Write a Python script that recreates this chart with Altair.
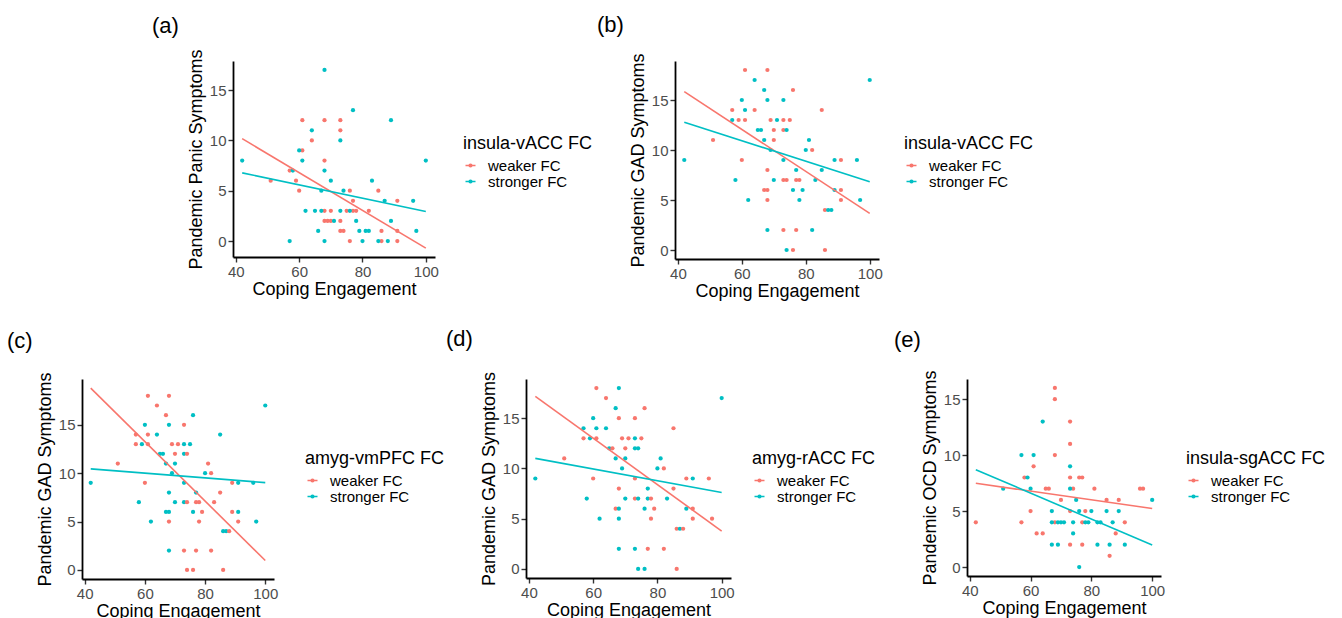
import altair as alt
import pandas as pd

FONT = "Liberation Sans, Arial, Helvetica, sans-serif"
RED = "#F8766D"
TEAL = "#00BFC4"
GROUPS = ["weaker FC", "stronger FC"]
CODE = {"w": "weaker FC", "s": "stronger FC"}

x_ticks = [40, 60, 80, 100]
y_ticks = [0, 5, 10, 15]
line_x = [42, 100]

# ---- (a) Panic symptoms, insula-vACC FC ----
a_weak_x = [51, 57, 59, 60, 61, 61, 64, 68, 68, 68, 68, 69, 70, 70, 73, 73, 73, 73, 74, 75, 76, 76, 77, 77, 78, 82, 85, 86, 86, 91, 91, 91]
a_weak_y = [6, 7, 6, 5, 9, 12, 10, 12, 8, 3, 2, 2, 2, 3, 12, 11, 2, 1, 1, 3, 5, 0, 4, 3, 3, 3, 5, 1, 0, 4, 0, 1]
a_strong_x = [42, 57, 58, 60, 61, 62, 64, 65, 66, 67, 67, 68, 68, 68, 70, 71, 73, 73, 74, 76, 77, 78, 79, 80, 81, 82, 83, 85, 87, 88, 89, 89, 96, 97, 100]
a_strong_y = [8, 0, 7, 9, 8, 3, 11, 3, 1, 3, 5, 17, 7, 0, 6, 2, 10, 3, 5, 3, 13, 2, 1, 0, 1, 1, 6, 0, 4, 0, 12, 2, 4, 1, 8]
a_line_weak = [10.17, -0.70]
a_line_strong = [6.77, 2.93]

# ---- GAD symptoms (panels b, c, d share the same participants) ----
gad_x = [61, 68, 64, 100, 67, 76, 60, 68, 73, 57, 61, 64, 85, 57, 59, 61, 69, 71, 73, 75,
         65, 66, 70, 73, 74, 51, 67, 70, 81, 69, 80, 82, 42, 60, 73, 89, 91, 96, 68, 77, 85,
         58, 70, 73, 74, 77, 78, 83, 67, 68, 76, 79, 89, 91, 62, 68, 78, 91, 97, 86, 87, 88,
         68, 73, 77, 82, 74, 76, 86]
gad_y = [18, 18, 17, 17, 16, 16, 15, 15, 15, 14, 14, 14, 14, 13, 13, 13, 13, 13, 13, 13,
         12, 12, 12, 12, 12, 11, 11, 11, 11, 10, 10, 10, 9, 9, 9, 9, 9, 9, 8, 8, 8,
         7, 7, 7, 7, 7, 7, 7, 6, 6, 6, 6, 6, 6, 5, 5, 5, 5, 5, 4, 4, 4,
         2, 2, 2, 2, 0, 0, 0]
b_group = list("ww" "ss" "sw" "sss" "wsww" "swwwsww" "sswws" "wsws" "ssw" "swssws"
               "wss" "sswwwws" "wwsssw" "swsws" "wss" "swws" "sww")
c_group = list("ww" "ws" "ws" "ssw" "wwss" "wswwwss" "sswsw" "wssw" "ssw" "swswss"
               "ssw" "ssswwww" "ssswws" "swwws" "ssw" "swww" "www")
d_group = list("ws" "ws" "sw" "sww" "sssw" "wswwwsw" "swwss" "wsss" "ssw" "swwwsw"
               "wsw" "sswssws" "wsswsw" "sswww" "wsw" "ssww" "ssw")
b_line_weak = [15.83, 3.67]
b_line_strong = [12.77, 6.83]
c_line_weak = [18.80, 0.97]
c_line_strong = [10.45, 9.03]
d_line_weak = [17.17, 3.77]
d_line_strong = [11.00, 7.60]

# ---- (e) OCD symptoms, insula-sgACC FC ----
e_weak_x = [68, 68, 73, 73, 68, 61, 58, 73, 76, 77, 65, 66, 74, 81, 96, 97, 70, 85, 89, 60, 73, 78, 42, 57, 68, 77, 91, 62, 64, 88, 73, 77, 86]
e_weak_y = [16, 15, 13, 11, 10, 9, 8, 8, 8, 8, 7, 7, 7, 7, 7, 7, 6, 6, 6, 5, 5, 5, 4, 4, 4, 4, 4, 3, 3, 3, 2, 2, 1]
e_strong_x = [64, 57, 61, 73, 59, 51, 60, 73, 75, 100, 67, 76, 80, 85, 89, 67, 69, 70, 71, 74, 78, 79, 82, 83, 87, 74, 67, 69, 82, 86, 91, 76]
e_strong_y = [13, 10, 10, 9, 8, 7, 7, 7, 6, 6, 5, 5, 5, 5, 5, 4, 4, 4, 4, 4, 4, 4, 4, 4, 4, 3, 2, 2, 2, 2, 2, 0]
e_line_weak = [7.48, 5.23]
e_line_strong = [8.70, 1.96]


def pts_two(wx, wy, sx, sy):
    return pd.DataFrame({
        "x": wx + sx, "y": wy + sy,
        "group": ["weaker FC"] * len(wx) + ["stronger FC"] * len(sx)})


def pts_coded(xs, ys, codes):
    return pd.DataFrame({"x": xs, "y": ys, "group": [CODE[c] for c in codes]})


def lines_df(weak, strong):
    return pd.DataFrame({
        "x": line_x + line_x, "y": weak + strong,
        "group": ["weaker FC"] * 2 + ["stronger FC"] * 2})


LEG_PATH = "M-1,0H1M0.26,0A0.26,0.26,0,1,1,-0.26,0A0.26,0.26,0,1,1,0.26,0Z"


def panel(pts, lns, ytitle, ydom, w, h, leg_title, label, tdx, toff, lx, ly):
    cscale = alt.Scale(domain=GROUPS, range=[RED, TEAL])
    xs = alt.Scale(domain=[39.1, 102.9], nice=False, zero=False)
    ys = alt.Scale(domain=ydom, nice=False, zero=False)
    xa = alt.Axis(values=x_ticks, title="Coping Engagement")
    ya = alt.Axis(values=y_ticks, title=ytitle)
    leg = alt.Legend(title=leg_title, orient="none", legendX=lx, legendY=ly,
                     symbolType=LEG_PATH, symbolSize=100, symbolStrokeWidth=1.6)
    p = alt.Chart(pts).mark_circle(size=18, opacity=1).encode(
        x=alt.X("x:Q", scale=xs, axis=xa),
        y=alt.Y("y:Q", scale=ys, axis=ya),
        color=alt.Color("group:N", scale=cscale, sort=GROUPS, legend=leg),
    )
    l = alt.Chart(lns).mark_line(strokeWidth=1.6).encode(
        x=alt.X("x:Q", scale=xs, axis=xa),
        y=alt.Y("y:Q", scale=ys, axis=ya),
        color=alt.Color("group:N", scale=cscale, sort=GROUPS, legend=leg),
    )
    return alt.layer(p, l).properties(
        width=w, height=h,
        title=alt.TitleParams(label, anchor="start", frame="group", dx=tdx,
                              baseline="alphabetic", offset=toff, fontSize=22,
                              fontWeight="normal", font=FONT, color="black"))


def spacer(w):
    return alt.Chart(pd.DataFrame({"v": [0]})).mark_point(opacity=0).properties(width=w, height=10)


pa = panel(pts_two(a_weak_x, a_weak_y, a_strong_x, a_strong_y), lines_df(a_line_weak, a_line_strong),
           "Pandemic Panic Symptoms", [-1.585, 17.885], 202, 196, "insula-vACC FC", "(a)", -81, -6, 230, 74)
pb = panel(pts_coded(gad_x, gad_y, b_group), lines_df(b_line_weak, b_line_strong),
           "Pandemic GAD Symptoms", [-0.9, 18.9], 204, 198, "insula-vACC FC", "(b)", -78, -1, 229, 74)
pc = panel(pts_coded(gad_x, gad_y, c_group), lines_df(c_line_weak, c_line_strong),
           "Pandemic GAD Symptoms", [-0.94, 19.74], 192, 200, "amyg-vmPFC FC", "(c)", -75, 2, 223, 71)
pd_ = panel(pts_coded(gad_x, gad_y, d_group), lines_df(d_line_weak, d_line_strong),
            "Pandemic GAD Symptoms", [-0.9, 18.9], 205, 199, "amyg-rACC FC", "(d)", -80, 3, 226, 71)
pe = panel(pts_two(e_weak_x, e_weak_y, e_strong_x, e_strong_y), lines_df(e_line_weak, e_line_strong),
           "Pandemic OCD Symptoms", [-0.8, 16.8], 194, 197, "insula-sgACC FC", "(e)", -73, 1, 219, 71)

top = alt.hconcat(spacer(151), pa, spacer(240), pb, spacing=0, bounds="flush").resolve_scale(
    color="independent").resolve_legend(color="independent")
bottom = alt.hconcat(pc, spacer(252), pd_, spacer(236), pe, spacing=0, bounds="flush").resolve_scale(
    color="independent").resolve_legend(color="independent")

chart = alt.vconcat(top, bottom, spacing=28).resolve_scale(
    color="independent", x="independent", y="independent"
).resolve_legend(
    color="independent"
).properties(
    padding={"left": 7, "top": 13, "right": 0, "bottom": 0}
).configure(
    font=FONT, background="white"
).configure_view(
    stroke=None
).configure_axis(
    grid=False, domainColor="black", domainWidth=1.8, tickColor="#333333",
    tickWidth=1.4, tickSize=5, labelColor="#4D4D4D", labelFontSize=15,
    labelFont=FONT, labelPadding=2, titleFont=FONT, titleFontSize=18,
    titleFontWeight="normal", titleColor="black"
).configure_axisX(
    titlePadding=1
).configure_axisY(
    titlePadding=4
).configure_legend(
    titleFont=FONT, titleFontSize=18, titleFontWeight="normal", titleColor="black",
    labelFont=FONT, labelFontSize=15, labelColor="black", titlePadding=5,
    rowPadding=0, labelOffset=10, padding=0
)

chart.save("out.html", embed_options={"renderer": "svg", "actions": False})
